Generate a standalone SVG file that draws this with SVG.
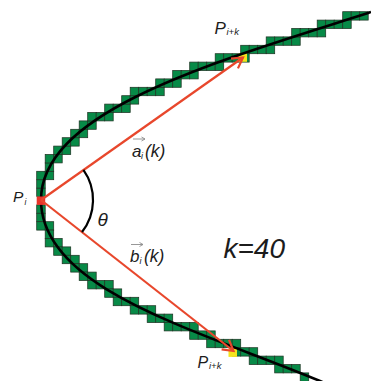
<svg xmlns="http://www.w3.org/2000/svg" xmlns:xlink="http://www.w3.org/1999/xlink" width="371" height="381" viewBox="0 0 371 381">
<style>
.px{fill:#078a47;stroke:#1e3524;stroke-width:0.75}
.cv{fill:none;stroke:#000;stroke-width:2.6}
.vec{fill:none;stroke:#e8472c;stroke-width:2.2}
.ang{fill:none;stroke:#000;stroke-width:2.2}
.sm{fill:none;stroke:#8c8c8c;stroke-width:0.9}
.lbl{font-family:"Liberation Sans",Arial,sans-serif;font-style:italic;fill:#1c1c1c}
</style>
<defs>
<rect id="c" class="px" width="8.5" height="8.4"/>
<marker id="ah" viewBox="-13 -8 15 16" refX="0" refY="0" markerWidth="15" markerHeight="16" markerUnits="userSpaceOnUse" orient="auto">
<path d="M-10.4,-6 L0,0 L-10.4,6" fill="none" stroke="#e8472c" stroke-width="2.2"/>
</marker>
<marker id="sh" viewBox="-5 -3 6 6" refX="0" refY="0" markerWidth="6" markerHeight="6" markerUnits="userSpaceOnUse" orient="auto">
<path d="M-3.5,-2 L0,0 L-3.5,2" fill="none" stroke="#8c8c8c" stroke-width="0.9"/>
</marker>
</defs>
<g id="pixels">
<use href="#c" x="36.7" y="188.1"/><use href="#c" x="36.7" y="179.7"/>
<use href="#c" x="36.7" y="171.3"/><use href="#c" x="45.2" y="171.3"/>
<use href="#c" x="45.2" y="162.9"/>
<use href="#c" x="45.2" y="154.5"/><use href="#c" x="53.7" y="154.5"/>
<use href="#c" x="53.7" y="146.1"/><use href="#c" x="62.2" y="146.1"/>
<use href="#c" x="62.2" y="137.7"/><use href="#c" x="70.7" y="137.7"/>
<use href="#c" x="70.7" y="129.3"/><use href="#c" x="79.2" y="129.3"/>
<use href="#c" x="79.2" y="120.9"/><use href="#c" x="87.7" y="120.9"/>
<use href="#c" x="87.7" y="112.5"/><use href="#c" x="96.2" y="112.5"/><use href="#c" x="104.7" y="112.5"/>
<use href="#c" x="104.7" y="104.1"/><use href="#c" x="113.2" y="104.1"/><use href="#c" x="121.7" y="104.1"/>
<use href="#c" x="121.7" y="95.7"/><use href="#c" x="130.2" y="95.7"/>
<use href="#c" x="130.2" y="87.3"/><use href="#c" x="138.7" y="87.3"/><use href="#c" x="147.2" y="87.3"/><use href="#c" x="155.7" y="87.3"/>
<use href="#c" x="155.7" y="78.9"/><use href="#c" x="164.2" y="78.9"/><use href="#c" x="172.7" y="78.9"/>
<use href="#c" x="172.7" y="70.5"/><use href="#c" x="181.2" y="70.5"/><use href="#c" x="189.7" y="70.5"/>
<use href="#c" x="189.7" y="62.1"/><use href="#c" x="198.2" y="62.1"/><use href="#c" x="206.7" y="62.1"/><use href="#c" x="215.2" y="62.1"/>
<use href="#c" x="215.2" y="53.7"/><use href="#c" x="223.7" y="53.7"/><use href="#c" x="232.2" y="53.7"/><use href="#c" x="240.7" y="53.7"/>
<use href="#c" x="240.7" y="45.3"/><use href="#c" x="249.2" y="45.3"/><use href="#c" x="257.7" y="45.3"/><use href="#c" x="266.2" y="45.3"/>
<use href="#c" x="266.2" y="36.9"/><use href="#c" x="274.7" y="36.9"/><use href="#c" x="283.2" y="36.9"/><use href="#c" x="291.7" y="36.9"/>
<use href="#c" x="291.7" y="28.5"/><use href="#c" x="300.2" y="28.5"/><use href="#c" x="308.7" y="28.5"/><use href="#c" x="317.2" y="28.5"/>
<use href="#c" x="317.2" y="20.1"/><use href="#c" x="325.7" y="20.1"/><use href="#c" x="334.2" y="20.1"/><use href="#c" x="342.7" y="20.1"/>
<use href="#c" x="342.7" y="11.7"/><use href="#c" x="351.2" y="11.7"/><use href="#c" x="359.7" y="11.7"/>
<use href="#c" x="36.7" y="204.9"/><use href="#c" x="36.7" y="213.3"/>
<use href="#c" x="36.7" y="221.7"/><use href="#c" x="45.2" y="221.7"/>
<use href="#c" x="45.2" y="230.1"/>
<use href="#c" x="45.2" y="238.5"/><use href="#c" x="53.7" y="238.5"/>
<use href="#c" x="53.7" y="246.9"/><use href="#c" x="62.2" y="246.9"/>
<use href="#c" x="62.2" y="255.3"/><use href="#c" x="70.7" y="255.3"/>
<use href="#c" x="70.7" y="263.7"/><use href="#c" x="79.2" y="263.7"/>
<use href="#c" x="79.2" y="272.1"/><use href="#c" x="87.7" y="272.1"/>
<use href="#c" x="87.7" y="280.5"/><use href="#c" x="96.2" y="280.5"/><use href="#c" x="104.7" y="280.5"/>
<use href="#c" x="104.7" y="288.9"/><use href="#c" x="113.2" y="288.9"/>
<use href="#c" x="113.2" y="297.3"/><use href="#c" x="121.7" y="297.3"/><use href="#c" x="130.2" y="297.3"/>
<use href="#c" x="130.2" y="305.7"/><use href="#c" x="138.7" y="305.7"/><use href="#c" x="147.2" y="305.7"/>
<use href="#c" x="147.2" y="314.1"/><use href="#c" x="155.7" y="314.1"/><use href="#c" x="164.2" y="314.1"/>
<use href="#c" x="164.2" y="322.5"/><use href="#c" x="172.7" y="322.5"/><use href="#c" x="181.2" y="322.5"/><use href="#c" x="189.7" y="322.5"/>
<use href="#c" x="189.7" y="330.9"/><use href="#c" x="198.2" y="330.9"/><use href="#c" x="206.7" y="330.9"/>
<use href="#c" x="206.7" y="339.3"/><use href="#c" x="215.2" y="339.3"/><use href="#c" x="223.7" y="339.3"/><use href="#c" x="232.2" y="339.3"/>
<use href="#c" x="232.2" y="347.7"/><use href="#c" x="240.7" y="347.7"/><use href="#c" x="249.2" y="347.7"/>
<use href="#c" x="249.2" y="356.1"/><use href="#c" x="257.7" y="356.1"/><use href="#c" x="266.2" y="356.1"/><use href="#c" x="274.7" y="356.1"/>
<use href="#c" x="274.7" y="364.5"/><use href="#c" x="283.2" y="364.5"/><use href="#c" x="291.7" y="364.5"/>
<use href="#c" x="300.2" y="372.9"/>
<rect x="238.5" y="53.4" width="8.5" height="8.4" fill="#f4e41c"/>
<rect x="228.5" y="348.5" width="8.5" height="8.4" fill="#f4e41c"/>
</g>
<g id="curve">
<path class="cv" d="M371,12 L368,13 C218,61 41,110 41,200 C41,290 200,330.6 320,381 L323,382.3"/>
</g>
<g id="Pi">
<rect x="36.7" y="196.5" width="8.5" height="8.4" fill="#e8342a"/>
</g>
<g id="connectors">
<line class="vec" x1="41" y1="200" x2="243" y2="57.5" marker-end="url(#ah)"/>
<line class="vec" x1="41" y1="200" x2="233.5" y2="351" marker-end="url(#ah)"/>
<path class="ang" d="M83.4,169.9 A52,52 0 0 1 82,232"/>
<line class="sm" x1="133" y1="139" x2="145" y2="139" marker-end="url(#sh)"/>
<line class="sm" x1="131" y1="244.5" x2="143" y2="244.5" marker-end="url(#sh)"/>
</g>
<g id="labels">
<text class="lbl" x="13" y="202" font-size="15.5">P</text><text class="lbl" x="24.5" y="204.5" font-size="8.5">i</text>
<text class="lbl" x="214.5" y="33.5" font-size="17">P</text><text class="lbl" x="226.5" y="35" font-size="9.5">i+k</text>
<text class="lbl" x="197.5" y="367.5" font-size="16">P</text><text class="lbl" x="209" y="369" font-size="9.5">i+k</text>
<text class="lbl" x="132" y="157" font-size="17">a</text><text class="lbl" x="141" y="158.5" font-size="9">i</text><text class="lbl" x="145" y="157" font-size="17.5">(k)</text>
<text class="lbl" x="130" y="262" font-size="17">b</text><text class="lbl" x="139.5" y="263.5" font-size="9">i</text><text class="lbl" x="144" y="262" font-size="17.5">(k)</text>
<text class="lbl" x="97.5" y="226" font-size="19">θ</text>
<text class="lbl" x="223.5" y="258" font-size="28">k=40</text>
</g>
</svg>
